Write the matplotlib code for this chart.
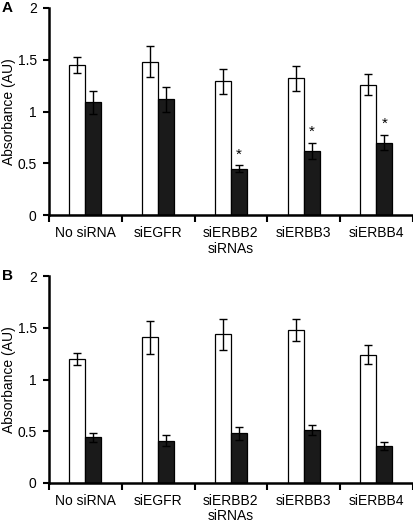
import numpy as np
import matplotlib.pyplot as plt

plt.rcParams['font.family'] = ['Liberation Sans', 'DejaVu Sans']

categories = ['No siRNA', 'siEGFR', 'siERBB2', 'siERBB3', 'siERBB4']

a_white = [1.45, 1.48, 1.29, 1.32, 1.26]
a_white_err = [0.08, 0.15, 0.12, 0.12, 0.10]
a_black = [1.09, 1.12, 0.45, 0.62, 0.70]
a_black_err = [0.11, 0.12, 0.03, 0.08, 0.07]
a_star = [False, False, True, True, True]

b_white = [1.20, 1.41, 1.44, 1.48, 1.24]
b_white_err = [0.06, 0.16, 0.15, 0.11, 0.09]
b_black = [0.44, 0.41, 0.48, 0.51, 0.36]
b_black_err = [0.04, 0.05, 0.06, 0.05, 0.04]
b_star = [False] * 5


def panel(ax, white, white_err, black, black_err, star, letter):
    x = np.arange(len(categories))
    w = 0.22
    ax.bar(x - w / 2, white, w, color='white', edgecolor='black', linewidth=0.9,
           yerr=white_err, error_kw=dict(ecolor='black', elinewidth=1, capsize=3, capthick=1))
    ax.bar(x + w / 2, black, w, color='#1a1a1a', edgecolor='black', linewidth=0.9,
           yerr=black_err, error_kw=dict(ecolor='black', elinewidth=1, capsize=3, capthick=1))
    for i in range(len(x)):
        if star[i]:
            ax.text(x[i] + w / 2, black[i] + black_err[i] + 0.04, '*', ha='center',
                    va='bottom', fontsize=11)
    ax.set_xlim(-0.5, len(x) - 0.5)
    ax.set_ylim(0, 2)
    ax.set_yticks([0, 0.5, 1, 1.5, 2])
    ax.set_yticklabels(['0', '0.5', '1', '1.5', '2'])
    ax.set_xticks(x)
    ax.set_xticklabels(categories)
    ax.set_xticks(np.arange(len(x) + 1) - 0.5, minor=True)
    ax.tick_params(axis='x', which='major', length=0, labelsize=10, pad=8)
    ax.tick_params(axis='x', which='minor', length=5, width=1.5, direction='out')
    ax.tick_params(axis='y', length=4, width=1.5, labelsize=10, pad=5)
    ax.spines['top'].set_visible(False)
    ax.spines['right'].set_visible(False)
    ax.spines['left'].set_linewidth(1.8)
    ax.spines['bottom'].set_linewidth(1.8)
    ax.set_ylabel('Absorbance (AU)', fontsize=10, labelpad=1)
    ax.set_xlabel('siRNAs', fontsize=10, labelpad=1)
    ax.text(-0.13, 1.0, letter, transform=ax.transAxes, fontsize=11,
            fontweight='bold', ha='left', va='center')


fig = plt.figure(figsize=(4.13, 5.25), dpi=100)
ax1 = fig.add_axes([0.119, 0.590, 0.88, 0.395])
ax2 = fig.add_axes([0.119, 0.080, 0.88, 0.394])
panel(ax1, a_white, a_white_err, a_black, a_black_err, a_star, 'A')
panel(ax2, b_white, b_white_err, b_black, b_black_err, b_star, 'B')

fig.savefig('out.png', dpi=100)
